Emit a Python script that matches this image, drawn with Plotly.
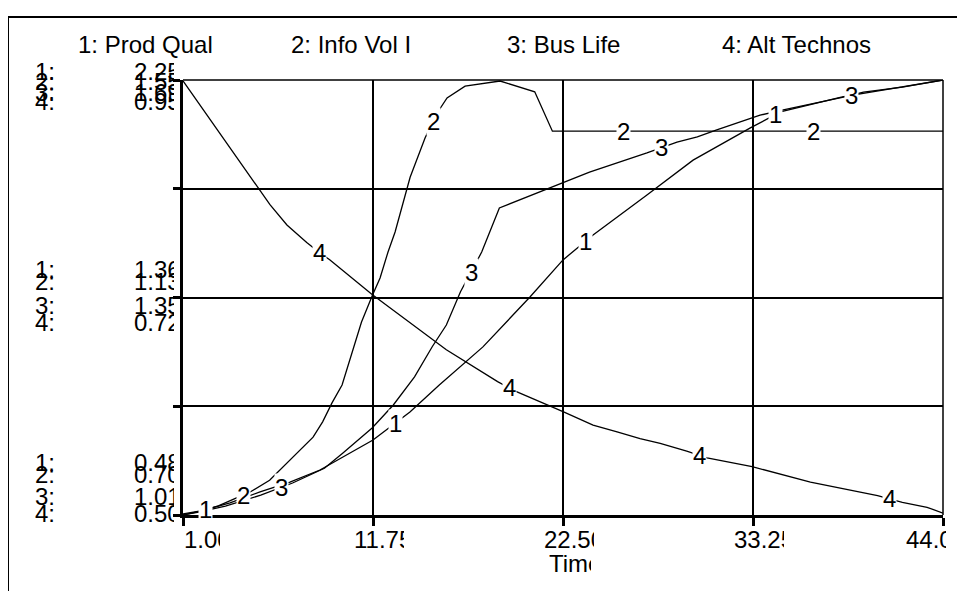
import numpy as np
import plotly.graph_objects as go

# ---------------- data ----------------
series_names = ["1: Prod Qual", "2: Info Vol I", "3: Bus Life", "4: Alt Technos"]

t_prod = [1, 2, 3.66, 5.36, 7.05, 8.75, 10.05, 11.75, 13.84, 15.5, 17.97, 20.63,
          22.5, 24.2, 27.25, 29.86, 33.1, 34.8, 38.3, 41.7, 44]
v_prod = [0.480, 0.496, 0.529, 0.574, 0.614, 0.663, 0.716, 0.785, 0.899, 1.009, 1.164, 1.367,
          1.518, 1.619, 1.782, 1.924, 2.055, 2.120, 2.181, 2.222, 2.250]

t_info = [1, 2, 3, 4, 4.8, 5.9, 7.05, 8.36, 8.9, 9.43, 10, 10.56, 11.1, 11.7, 12.15, 12.6,
          13, 13.85, 14.7, 15.37, 15.94, 16.96, 18.94, 20.9, 21.9, 44]
v_info = [0.702, 0.708, 0.718, 0.733, 0.745, 0.768, 0.807, 0.852, 0.882, 0.919, 0.954, 1.018,
          1.077, 1.128, 1.163, 1.214, 1.253, 1.360, 1.437, 1.485, 1.515, 1.538, 1.548, 1.527,
          1.450, 1.450]

t_bus = [1, 1.96, 3.4, 5.4, 7.2, 9.0, 10.05, 11.7, 12.9, 14.1, 15.1, 15.9, 16.7, 17.9, 18.9,
         21.0, 22.8, 24.0, 27.25, 28.95, 30.1, 31.2, 33.65, 34.9, 38.3, 39.5, 41.7, 44]
v_bus = [1.010, 1.015, 1.024, 1.041, 1.060, 1.083, 1.107, 1.146, 1.182, 1.226, 1.273, 1.307,
         1.359, 1.421, 1.490, 1.513, 1.532, 1.546, 1.576, 1.593, 1.601, 1.612, 1.635, 1.643,
         1.663, 1.671, 1.679, 1.690]

t_alt = [1, 5.19, 5.92, 6.88, 8.0, 8.75, 9.3, 11.7, 15.9, 18.8, 19.7, 22.5, 24.2, 25.56,
         26.86, 28, 29.5, 30.65, 33.2, 36.5, 40.3, 41.7, 43.1, 44]
v_alt = [0.949, 0.841, 0.821, 0.800, 0.782, 0.771, 0.764, 0.728, 0.671, 0.638, 0.629, 0.607,
         0.593, 0.586, 0.579, 0.574, 0.566, 0.559, 0.550, 0.534, 0.520, 0.513, 0.508, 0.502]

# scale of each series: bottom / top of the plot
scale_min = [0.48, 0.70, 1.01, 0.50]
scale_max = [2.25, 1.55, 1.69, 0.95]
# printed scale labels (bottom, middle, top) per series
labels_bottom = ["0.48", "0.70", "1.01", "0.50"]
labels_middle = ["1.36", "1.13", "1.35", "0.72"]
labels_top = ["2.25", "1.55", "1.69", "0.95"]

time_ticks = [1.0, 11.75, 22.5, 33.25, 44.0]
time_tick_labels = ["1.00", "11.75", "22.50", "33.25", "44.00"]
x_title = "Time"

# ---------------- figure ----------------
FONT = "Liberation Sans, Arial, sans-serif"
FS = 24
OFF = 8                      # page offset of the plot div
W, H = 965 - OFF, 591 - OFF
L, R, T, B = 183, 943, 80, 515   # plot area in window pixels


def px(x):
    return (x - L) / (R - L)


def py(y):
    return (B - y) / (B - T)


times = [t_prod, t_info, t_bus, t_alt]
vals = [v_prod, v_info, v_bus, v_alt]
axes = ["y", "y2", "y3", "y4"]

fig = go.Figure()
for i in range(4):
    fig.add_trace(go.Scatter(x=times[i], y=vals[i], mode="lines", yaxis=axes[i],
                             line=dict(color="black", width=1.3),
                             name=series_names[i], showlegend=False, hoverinfo="skip"))

annotations = []
# inline series numbers along the curves
for i in range(4):
    for k in range(4):
        tt = 2.245 + 2.15 * i + 10.75 * k
        vv = float(np.interp(tt, times[i], vals[i]))
        annotations.append(dict(x=tt, y=vv, xref="x", yref=axes[i], text=str(i + 1),
                                showarrow=False, bgcolor="white", borderpad=0,
                                font=dict(family=FONT, size=FS, color="black")))

# legend row
legend_x = [76, 289, 505, 720]
for i in range(4):
    annotations.append(dict(x=px(legend_x[i]), y=py(45), xref="paper", yref="paper",
                            xanchor="left", yanchor="middle", text=series_names[i],
                            showarrow=False, font=dict(family=FONT, size=FS, color="black")))

# stacked scale labels on the left
group_rows = [[72, 82, 92, 101], [269, 281, 305, 322], [462, 474, 496, 513]]
group_labels = [labels_top, labels_middle, labels_bottom]
for g in range(3):
    for i in range(4):
        yy = py(group_rows[g][i])
        annotations.append(dict(x=px(33), y=yy, xref="paper", yref="paper", xanchor="left",
                                yanchor="middle", text=f"{i + 1}:", showarrow=False,
                                font=dict(family=FONT, size=FS, color="black")))
        annotations.append(dict(x=px(133), y=yy, xref="paper", yref="paper", xanchor="left",
                                yanchor="middle", text=group_labels[g][i], showarrow=False,
                                width=40, align="left", borderpad=0,
                                font=dict(family=FONT, size=FS, color="black")))

# time tick labels (clipped like the original)
tick_off = [0, -20, -20, -20, -38]
tick_w = [36, 50, 50, 50, 40]
for j, tv in enumerate(time_ticks):
    xp = L + (tv - 1) / 43 * (R - L) + tick_off[j]
    annotations.append(dict(x=px(xp), y=py(539), xref="paper", yref="paper", xanchor="left",
                            yanchor="middle", text=time_tick_labels[j], showarrow=False,
                            width=tick_w[j], align="left", borderpad=0,
                            font=dict(family=FONT, size=FS, color="black")))
annotations.append(dict(x=px(548), y=py(563), xref="paper", yref="paper", xanchor="left",
                        yanchor="middle", text=x_title, showarrow=False, width=42,
                        align="left", borderpad=0,
                        font=dict(family=FONT, size=FS, color="black")))

shapes = [
    # outer frame (top and left edges visible)
    dict(type="line", xref="paper", yref="paper", x0=px(8), x1=px(975), y0=py(17), y1=py(17),
         line=dict(color="black", width=2)),
    dict(type="line", xref="paper", yref="paper", x0=px(8), x1=px(8), y0=py(17), y1=py(600),
         line=dict(color="black", width=2)),
    # top and right borders of the grid
    dict(type="line", xref="paper", yref="paper", x0=0, x1=1, y0=1, y1=1,
         line=dict(color="black", width=1.5)),
    dict(type="line", xref="paper", yref="paper", x0=1, x1=1, y0=0, y1=1,
         line=dict(color="black", width=1.5)),
]

yticks1 = list(np.linspace(scale_min[0], scale_max[0], 5))
fig.update_layout(
    width=W, height=H,
    margin=dict(l=L - OFF, r=W - (R - OFF), t=T - OFF, b=H - (B - OFF), pad=0),
    paper_bgcolor="white", plot_bgcolor="white",
    showlegend=False,
    xaxis=dict(range=[1, 44], tickvals=time_ticks, showticklabels=False,
               showgrid=True, gridcolor="black", gridwidth=1.5, zeroline=False,
               showline=True, linecolor="black", linewidth=3,
               ticks="outside", ticklen=8, tickwidth=3, tickcolor="black", fixedrange=True),
    yaxis=dict(range=[scale_min[0], scale_max[0]], tickvals=yticks1, showticklabels=False,
               showgrid=True, gridcolor="black", gridwidth=1.5, zeroline=False,
               showline=True, linecolor="black", linewidth=3,
               ticks="outside", ticklen=7, tickwidth=3, tickcolor="black", fixedrange=True),
    yaxis2=dict(range=[scale_min[1], scale_max[1]], overlaying="y", visible=False),
    yaxis3=dict(range=[scale_min[2], scale_max[2]], overlaying="y", visible=False),
    yaxis4=dict(range=[scale_min[3], scale_max[3]], overlaying="y", visible=False),
    annotations=annotations,
    shapes=shapes,
)

fig.write_html("out.html")
